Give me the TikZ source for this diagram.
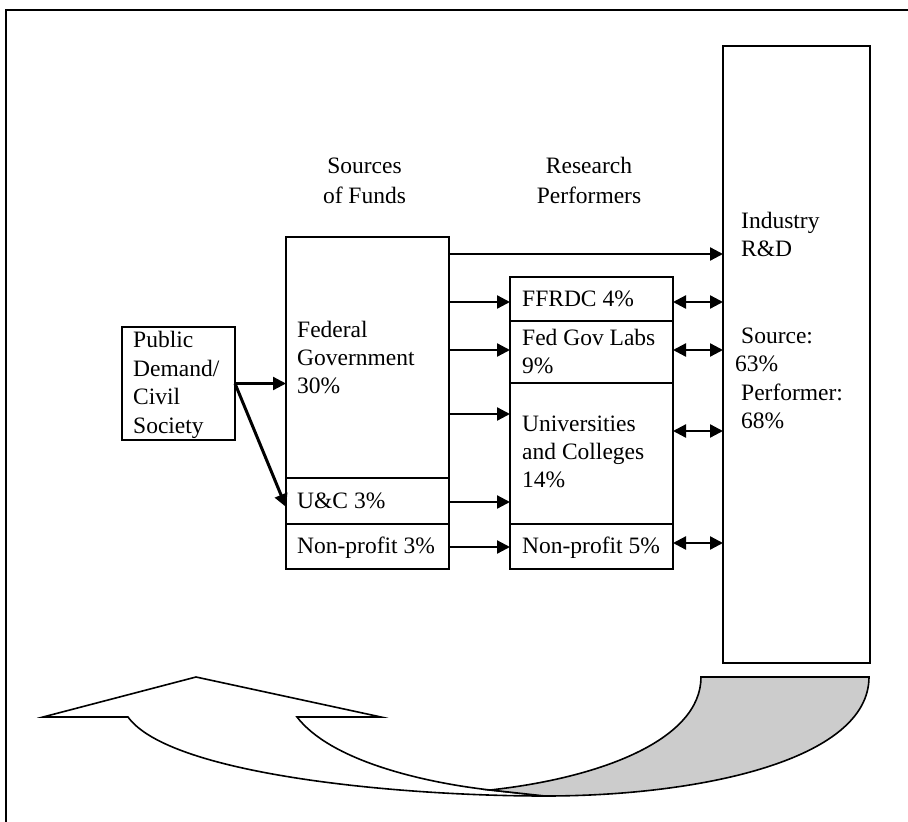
\documentclass[tikz,border=0pt]{standalone}
\usepackage{fontspec}
\setmainfont{Liberation Serif}
\usetikzlibrary{positioning,arrows.meta}
\definecolor{backgray}{HTML}{CCCCCC}
\tikzset{
  box/.style={draw, line width=1.6pt, inner sep=0pt, outer sep=0pt},
  txt/.style={anchor=base west, inner sep=0pt},
  head/.style={anchor=base, inner sep=0pt},
  flow/.style={line width=2.3pt, -{Triangle[length=13pt,width=13pt]}},
  both/.style={line width=2.3pt, {Triangle[length=13pt,width=13pt]}-{Triangle[length=13pt,width=13pt]}},
  curve/.style={line width=1.6pt, line join=miter}
}
\begin{document}
\begin{tikzpicture}[x=1pt,y=-1pt,font=\fontsize{23.5}{28}\selectfont]
\useasboundingbox (0,0) rectangle (908,822);
% frame
\draw[line width=2.6pt] (6,822) -- (6,10) -- (908,10);
% boxes
\node[box, minimum width=113pt, minimum height=113pt] (pub) at (178.5,383.5) {};
\node[box, minimum width=163pt, minimum height=241pt] (fed) at (367.5,357.5) {};
\node[box, minimum width=163pt, minimum height=46pt, below=0pt of fed] (uc) {};
\node[box, minimum width=163pt, minimum height=45pt, below=0pt of uc] (fnp) {};
\node[box, minimum width=163pt, minimum height=44pt] (ffrdc) at (591.5,299) {};
\node[box, minimum width=163pt, minimum height=62pt, below=0pt of ffrdc] (labs) {};
\node[box, minimum width=163pt, minimum height=141pt, below=0pt of labs] (univ) {};
\node[box, minimum width=163pt, minimum height=45pt, below=0pt of univ] (rnp) {};
\node[box, minimum width=147pt, minimum height=617pt] (ind) at (796.5,354.5) {};
% headings
\node[head] (srcA) at (364.5,173) {Sources};
\node[head] (srcB) at (364.5,203) {of Funds};
\node[head] (perfA) at (589,173) {Research};
\node[head] (perfB) at (589,203) {Performers};
% texts
\foreach \t [count=\i from 0] in {Public,Demand/,Civil,Society}
  \node[txt] (pubt\i) at (133,{347.5+28.5*\i}) {\t};
\foreach \t [count=\i from 0] in {Federal,Government,30\%}
  \node[txt] (fedt\i) at (297,{337+28*\i}) {\t};
\node[txt] (uct) at (297,508) {U\&C 3\%};
\node[txt] (fnpt) at (297,553) {Non-profit 3\%};
\node[txt] (ffrdct) at (522,306) {FFRDC 4\%};
\node[txt] (labst0) at (522,345) {Fed Gov Labs};
\node[txt] (labst1) at (522,373) {9\%};
\foreach \t [count=\i from 0] in {Universities,and Colleges,14\%}
  \node[txt] (univt\i) at (522,{431.5+28*\i}) {\t};
\node[txt] (rnpt) at (522,553) {Non-profit 5\%};
\node[txt] (indt0) at (741,228) {Industry};
\node[txt] (indt1) at (741,256.5) {R\&D};
\node[txt] (indt2) at (741,343) {Source:};
\node[txt] (indt3) at (735,371) {63\%};
\node[txt] (indt4) at (741,400) {Performer:};
\node[txt] (indt5) at (741,428) {68\%};
% connectors
\draw[flow] (pub.east) -- (fed.west |- pub.east);
\draw[flow, line width=3pt] (pub.east) -- (uc.west |- 0,507);
\draw[flow] (fed.east |- 0,254) -- (ind.west |- 0,254);
\foreach \to/\y in {ffrdc/302,labs/350,univ/414}
  \draw[flow] (fed.east |- 0,\y) -- (\to.west |- 0,\y);
\draw[flow] (uc.east |- 0,502) -- (univ.west |- 0,502);
\draw[flow] (fnp.east |- 0,547) -- (rnp.west |- 0,547);
\foreach \from/\y in {ffrdc/302,labs/350,univ/431,rnp/543}
  \draw[both] (\from.east |- 0,\y) -- (ind.west |- 0,\y);
% curved arrow
\draw[curve, fill=white] (43,717) -- (196,677) -- (381,717) -- (297,717)
  .. controls (330,760) and (420,782) .. (490,790) -- (545,796)
  .. controls (400,796) and (170,775) .. (128,717) -- cycle;
\draw[curve, fill=backgray] (490,790) .. controls (600,778) and (701,740) .. (701,677)
  -- (869,677) .. controls (869,760) and (700,796) .. (545,796) -- cycle;
\end{tikzpicture}
\end{document}
